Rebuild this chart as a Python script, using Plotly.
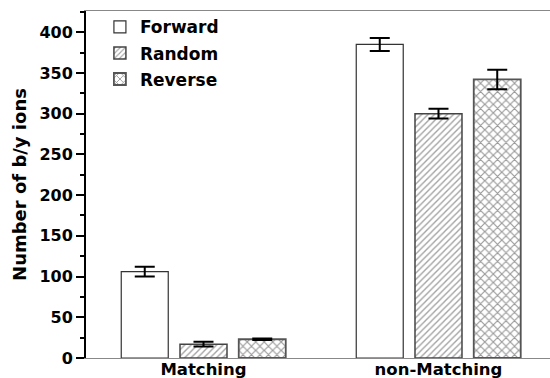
import plotly.graph_objects as go

categories = ["Matching", "non-Matching"]
series_names = ["Forward", "Random", "Reverse"]
forward_vals = [106, 385]
forward_err = [6, 8]
random_vals = [17, 300]
random_err = [3, 6]
reverse_vals = [23, 342]
reverse_err = [1, 12]
y_ticks = [0, 50, 100, 150, 200, 250, 300, 350, 400]

FONT = "DejaVu Sans"

styles = {
    "Forward": dict(pattern=dict(shape=""), line=dict(color="#333333", width=1.2)),
    "Random": dict(pattern=dict(shape="/", fgcolor="#444444", bgcolor="white", size=4.5, solidity=0.3),
                   line=dict(color="#444444", width=1.5)),
    "Reverse": dict(pattern=dict(shape="x", fgcolor="#333333", bgcolor="white", size=6, solidity=0.35),
                    line=dict(color="#555555", width=1.8)),
}

fig = go.Figure()
for name, vals, errs in [("Forward", forward_vals, forward_err),
                         ("Random", random_vals, random_err),
                         ("Reverse", reverse_vals, reverse_err)]:
    st = styles[name]
    fig.add_trace(go.Bar(
        name=name, x=categories, y=vals,
        marker=dict(color="white", pattern=st["pattern"], line=st["line"]),
        error_y=dict(type="data", array=errs, visible=True, color="black", thickness=2, width=10),
        legendgroup=name,
    ))

fig.update_layout(
    width=550, height=378,
    margin=dict(l=86, r=0, t=11, b=20, autoexpand=False),
    paper_bgcolor="white", plot_bgcolor="white",
    barmode="group", bargap=0.25, bargroupgap=0.2,
    font=dict(family=FONT, color="black"),
    showlegend=True,
    legend=dict(x=0.03, y=1.005, xanchor="left", yanchor="top",
                bgcolor="rgba(0,0,0,0)", traceorder="grouped", tracegroupgap=1,
                font=dict(family=FONT, size=17, color="black", weight="bold"),
                itemwidth=30),
)
fig.update_xaxes(
    range=[-0.5, 1.4745], showline=True, linecolor="#888888", linewidth=1, mirror=True,
    ticks="", showgrid=False, zeroline=False, automargin=False, ticklabelstandoff=-4,
    tickfont=dict(family=FONT, size=16.5, color="black", weight="bold"),
)
fig.update_yaxes(
    range=[0, 426], tickvals=y_ticks, showline=True, linecolor="black", linewidth=2,
    ticks="outside", ticklen=8, tickwidth=2, tickcolor="black",
    minor=dict(dtick=25, ticks="outside", ticklen=4, tickwidth=1.5, tickcolor="black", showgrid=False),
    showgrid=False, zeroline=False, automargin=False,
    tickfont=dict(family=FONT, size=16, color="black", weight="bold"),
    title=dict(text="Number of b/y ions", standoff=8,
               font=dict(family=FONT, size=18, color="black", weight="bold")),
)

fig.write_html("out.html", config={"displayModeBar": False},
               post_script="document.body.style.margin='0';")
